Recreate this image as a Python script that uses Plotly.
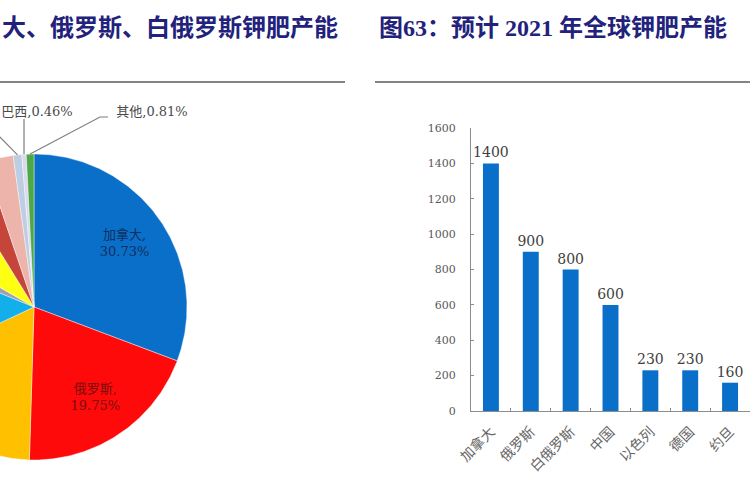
import numpy as np
import plotly.graph_objects as go

# ---------------- data ----------------
bar_categories = ["加拿大", "俄罗斯", "白俄罗斯", "中国", "以色列", "德国", "约旦"]
bar_values = [1400, 900, 800, 600, 230, 230, 160]
y_ticks = [0, 200, 400, 600, 800, 1000, 1200, 1400, 1600]

pie_labels = ["加拿大", "俄罗斯", "白俄罗斯", "中国", "老挝", "以色列", "德国", "约旦", "智利", "巴西", "其他"]
pie_shares = [30.73, 19.75, 17.56, 13.17, 2.10, 7.90, 3.60, 3.02, 0.90, 0.46, 0.81]

left_title = "大、俄罗斯、白俄罗斯钾肥产能"
right_title = "图63：预计 2021 年全球钾肥产能"

# ---------------- styles / geometry ----------------
W, H = 750, 500
pie_colors = ["#0A6FC9", "#FF0A0A", "#FFC000", "#12AFEA", "#9AA3AE", "#FFFF14",
              "#C5453A", "#EDB4AC", "#BCCDE4", "#DCD8EF", "#4EA847"]
inside_text_colors = {"加拿大": "#102E5C", "俄罗斯": "#7A0C0C"}
outside_labels = {"巴西": ("vertical", 37, 113), "其他": ("elbow", 152, 113)}
CX, CY, R = 34, 307, 153          # pie centre / radius in pixels
PX_X = (0, 300)
PX_Y = (95, 500)


def to_pie(px, py):
    return (px - CX) / R, (CY - py) / R


num_font = "DejaVu Serif, Noto Sans CJK SC"
fig = go.Figure()

# ---------------- pie (drawn on its own cartesian axes, cropped like the reference) ----------------
cum = np.concatenate([[0.0], np.cumsum(pie_shares)]) / 100.0 * 360.0
for i, (name, share) in enumerate(zip(pie_labels, pie_shares)):
    a0, a1 = cum[i], cum[i + 1]
    n = max(4, int((a1 - a0) * 2) + 2)
    th = np.radians(np.linspace(a0, a1, n))
    xs = np.concatenate([[0.0], np.sin(th), [0.0]])
    ys = np.concatenate([[0.0], np.cos(th), [0.0]])
    fig.add_trace(go.Scatter(
        x=xs, y=ys, xaxis="x2", yaxis="y2", mode="lines", fill="toself",
        fillcolor=pie_colors[i], line=dict(color="rgba(255,255,255,0.7)", width=0.6),
        hoverinfo="text", hovertext=f"{name}, {share:.2f}%", showlegend=False))

# labels inside the visible big slices
for i, (name, share) in enumerate(zip(pie_labels, pie_shares)):
    if name in inside_text_colors:
        mid = np.radians((cum[i] + cum[i + 1]) / 2)
        fig.add_trace(go.Scatter(
            x=[0.72 * np.sin(mid)], y=[0.72 * np.cos(mid)], xaxis="x2", yaxis="y2",
            mode="text", text=[f"{name},<br>{share:.2f}%"], textposition="middle center",
            textfont=dict(family=num_font, size=13, color=inside_text_colors[name]),
            hoverinfo="skip", showlegend=False))

# outside labels with leader lines
for i, (name, share) in enumerate(zip(pie_labels, pie_shares)):
    mid = np.radians((cum[i] + cum[i + 1]) / 2)
    sx, sy = np.sin(mid), np.cos(mid)
    if name in outside_labels:
        kind, lx, ly = outside_labels[name]
        if kind == "vertical":
            _, ey = to_pie(0, ly + 6)
            lxs, lys = [sx, sx], [sy, ey]
        else:
            ex1, ey1 = to_pie(100, ly + 4)
            ex2, _ = to_pie(108, ly + 4)
            lxs, lys = [sx, ex1, ex2], [sy, ey1, ey1]
        fig.add_trace(go.Scatter(x=lxs, y=lys, xaxis="x2", yaxis="y2", mode="lines",
                                 line=dict(color="#7F7F7F", width=1.2),
                                 hoverinfo="skip", showlegend=False))
        tx, ty = to_pie(lx, ly)
        fig.add_trace(go.Scatter(
            x=[tx], y=[ty], xaxis="x2", yaxis="y2", mode="text",
            text=[f"{name},{share:.2f}%"], textposition="middle center",
            textfont=dict(family=num_font, size=13, color="#4A4A4A"),
            hoverinfo="skip", showlegend=False))
    elif name == "智利":
        ex, ey = to_pie(-12, 125)
        fig.add_trace(go.Scatter(x=[sx, ex], y=[sy, ey], xaxis="x2", yaxis="y2", mode="lines",
                                 line=dict(color="#7F7F7F", width=1.2),
                                 hoverinfo="skip", showlegend=False))

# ---------------- bar chart ----------------
fig.add_trace(go.Bar(
    x=bar_categories, y=bar_values, xaxis="x", yaxis="y",
    marker=dict(color="#0A6FC9", line=dict(width=0)), width=0.4,
    text=[str(v) for v in bar_values], textposition="outside", constraintext="none",
    textfont=dict(family=num_font, size=14, color="#404040"),
    cliponaxis=False, showlegend=False))

xr0, yr1 = to_pie(PX_X[0], PX_Y[0])
xr1, yr0 = to_pie(PX_X[1], PX_Y[1])

fig.update_layout(
    width=W, height=H,
    margin=dict(l=0, r=0, t=0, b=0, pad=0, autoexpand=False),
    paper_bgcolor="white", plot_bgcolor="white",
    showlegend=False,
    xaxis=dict(domain=[471 / W, 1.0], range=[-0.5, 6.5], type="category", anchor="y",
               automargin=False,
               showline=True, linecolor="#8C8C8C", linewidth=1,
               ticks="inside", ticklen=3, tickcolor="#8C8C8C", tickson="boundaries",
               tickangle=-45, ticklabelstandoff=6, showgrid=False, zeroline=False,
               tickfont=dict(family="Noto Sans CJK SC", size=14, color="#666666")),
    yaxis=dict(domain=[(H - 411) / H, (H - 128) / H], range=[0, 1600], anchor="x",
               automargin=False, tickmode="array", tickvals=y_ticks,
               showline=True, linecolor="#8C8C8C", linewidth=1,
               ticks="inside", ticklen=3, tickcolor="#8C8C8C", ticklabelstandoff=12,
               showgrid=False, zeroline=False,
               tickfont=dict(family=num_font, size=11, color="#595959")),
    xaxis2=dict(domain=[PX_X[0] / W, PX_X[1] / W], range=[xr0, xr1], anchor="y2",
                automargin=False, visible=False, showgrid=False, zeroline=False),
    yaxis2=dict(domain=[(H - PX_Y[1]) / H, (H - PX_Y[0]) / H], range=[yr0, yr1], anchor="x2",
                automargin=False, visible=False, showgrid=False, zeroline=False),
)

title_font = dict(family="Liberation Serif, Noto Sans CJK SC", size=24, color="#22227C", weight="bold")
fig.add_annotation(text=left_title, xref="paper", yref="paper", x=0, y=1 - 28 / H,
                   xanchor="left", yanchor="middle", showarrow=False, font=title_font)
fig.add_annotation(text=right_title, xref="paper", yref="paper", x=377 / W, y=1 - 28 / H,
                   xanchor="left", yanchor="middle", showarrow=False, font=title_font)

rule_y = 1 - 82 / H
fig.add_shape(type="line", xref="paper", yref="paper", x0=0, x1=345 / W, y0=rule_y, y1=rule_y,
              line=dict(color="#5A5A5A", width=1.5))
fig.add_shape(type="line", xref="paper", yref="paper", x0=375 / W, x1=1, y0=rule_y, y1=rule_y,
              line=dict(color="#5A5A5A", width=1.5))

fig.write_html("out.html", config={"displayModeBar": False},
               post_script="document.body.style.margin='0px';document.body.style.overflow='hidden';")
